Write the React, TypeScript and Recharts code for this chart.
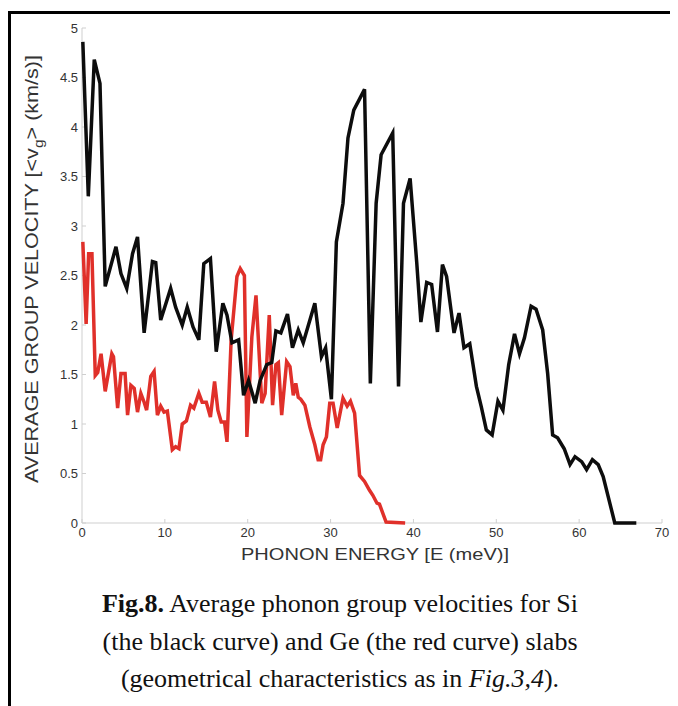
import { Line, LineChart, XAxis, YAxis } from "recharts";

// Si slab (black curve): phonon energy [meV] and average group velocity [km/s]
const siEnergy = [
  0.1, 0.76, 1.48, 2.17, 2.8, 4.1, 4.7, 5.4, 6.1, 6.7, 7.5, 8.5, 8.9, 9.5, 10.7, 11.3, 12.1,
  12.7, 13.4, 14.1, 14.7, 15.5, 16.2, 17.0, 17.5, 18.1, 18.9, 19.5, 20.1, 20.9, 21.5, 22.3,
  22.9, 23.4, 24.0, 24.8, 25.4, 26.1, 26.7, 28.1, 28.9, 29.4, 30.1, 30.7, 31.5, 32.1, 32.8,
  34.1, 34.8, 35.5, 36.1, 37.5, 38.2, 38.8, 39.6, 40.4, 40.9, 41.6, 42.2, 42.9, 43.5, 44.0,
  44.9, 45.5, 46.1, 46.8, 47.6, 48.2, 48.8, 49.5, 50.2, 50.8, 51.5, 52.2, 52.8, 53.4, 54.2,
  54.8, 55.6, 56.2, 56.8, 57.4, 58.2, 58.9, 59.5, 60.3, 60.9, 61.6, 62.3, 62.9, 64.3, 66.9,
];
const siVelocity = [
  4.86, 3.3, 4.68, 4.44, 2.39, 2.79, 2.52, 2.37, 2.72, 2.89, 1.92, 2.64, 2.63, 2.05, 2.37, 2.18,
  2.0, 2.18, 1.98, 1.85, 2.62, 2.67, 1.73, 2.22, 2.1, 1.82, 1.85, 1.29, 1.44, 1.21, 1.44, 1.6,
  1.62, 1.94, 1.92, 2.11, 1.77, 1.95, 1.82, 2.22, 1.68, 1.77, 1.25, 2.84, 3.23, 3.89, 4.17,
  4.38, 1.41, 3.23, 3.72, 3.94, 1.38, 3.23, 3.48, 2.63, 2.03, 2.43, 2.41, 1.93, 2.61, 2.49,
  1.92, 2.12, 1.77, 1.81, 1.38, 1.17, 0.94, 0.89, 1.23, 1.14, 1.6, 1.91, 1.71, 1.87, 2.19,
  2.16, 1.95, 1.51, 0.89, 0.86, 0.75, 0.59, 0.67, 0.62, 0.54, 0.64, 0.59, 0.47, 0, 0,
];

// Ge slab (red curve)
const geEnergy = [
  0.1, 0.5, 0.8, 1.2, 1.6, 1.9, 2.3, 2.8, 3.6, 3.8, 4.3, 4.7, 5.2, 5.5, 5.9, 6.3, 6.7, 7.1,
  7.5, 7.8, 8.3, 8.7, 9.1, 9.5, 9.9, 10.3, 10.9, 11.3, 11.7, 12.1, 12.6, 13.1, 13.5, 14.1,
  14.5, 15.0, 15.5, 16.0, 16.4, 16.8, 17.2, 17.5, 18.0, 18.7, 19.1, 19.6, 19.9, 20.5, 21.0,
  21.7, 22.1, 22.6, 23.0, 23.4, 23.7, 24.1, 24.7, 25.1, 25.5, 25.8, 26.1, 26.4, 26.9, 27.5,
  28.1, 28.5, 28.8, 29.1, 29.5, 29.9, 30.3, 30.8, 31.5, 32.0, 32.4, 32.9, 33.5, 34.1, 34.7,
  35.1, 35.6, 35.9, 36.7, 39.0,
];
const geVelocity = [
  2.84, 2.01, 2.72, 2.72, 1.49, 1.52, 1.71, 1.33, 1.71, 1.68, 1.16, 1.51, 1.51, 1.09, 1.39,
  1.36, 1.12, 1.31, 1.22, 1.14, 1.48, 1.53, 1.09, 1.18, 1.12, 1.13, 0.74, 0.77, 0.75, 1.0,
  1.03, 1.19, 1.16, 1.31, 1.22, 1.22, 1.07, 1.43, 1.14, 1.02, 1.02, 0.82, 1.85, 2.49, 2.57,
  2.5, 0.87, 1.88, 2.3, 1.21, 1.31, 2.1, 1.19, 1.6, 1.62, 1.09, 1.63, 1.58, 1.29, 1.41, 1.27,
  1.25, 1.19, 0.97, 0.79, 0.64, 0.64, 0.79, 0.87, 1.21, 1.21, 0.96, 1.26, 1.18, 1.23, 1.11,
  0.48, 0.42, 0.33, 0.28, 0.2, 0.19, 0.01, 0,
];

const xTicks = [0, 10, 20, 30, 40, 50, 60, 70];
const yTicks = [0, 0.5, 1, 1.5, 2, 2.5, 3, 3.5, 4, 4.5, 5];

const siData = siEnergy.map((e, i) => ({ e, v: siVelocity[i] }));
const geData = geEnergy.map((e, i) => ({ e, v: geVelocity[i] }));

const sans = "Liberation Sans, Arial, sans-serif";
const tickStyle = { fontSize: 13, fill: "#333", fontFamily: sans };
const axisGray = "#cfcfcf";

// rotated y label with a "g" subscript under the v
function YLabel() {
  const cx = 24;
  const cy = 261;
  return (
    <text
      x={cx}
      y={cy}
      transform={`rotate(-90, ${cx}, ${cy})`}
      textAnchor="middle"
      dominantBaseline="central"
      fontSize={18}
      fill="#333"
      fontFamily={sans}
      textLength={428}
      lengthAdjust="spacingAndGlyphs"
    >
      AVERAGE GROUP VELOCITY [&lt;v
      <tspan dy={6} fontSize={13}>g</tspan>
      <tspan dy={-6}>&gt; (km/s)]</tspan>
    </text>
  );
}

function XLabel() {
  return (
    <text
      x={367}
      y={546}
      textAnchor="middle"
      dominantBaseline="central"
      fontSize={17}
      fill="#333"
      fontFamily={sans}
      textLength={268}
      lengthAdjust="spacingAndGlyphs"
    >
      PHONON ENERGY [E (meV)]
    </text>
  );
}

export default function App() {
  return (
    <div style={{ position: "relative", width: 670, height: 698, background: "#fff" }}>
      <div
        style={{
          position: "absolute",
          left: 0,
          top: 3,
          width: 670,
          height: 695,
          borderTop: "3px solid #000",
          borderLeft: "3px solid #000",
          boxSizing: "border-box",
        }}
      />
      <LineChart width={670} height={560} margin={{ top: 20, right: 16, bottom: 0, left: 44 }}>
        <XAxis
          type="number"
          dataKey="e"
          domain={[0, 70]}
          ticks={xTicks}
          height={45}
          stroke={axisGray}
          tick={tickStyle}
          tickSize={-4}
          tickMargin={9}
          label={<XLabel />}
        />
        <YAxis
          type="number"
          dataKey="v"
          domain={[0, 5]}
          ticks={yTicks}
          width={30}
          stroke={axisGray}
          tick={tickStyle}
          tickSize={-4}
          tickMargin={8}
          label={<YLabel />}
        />
        <Line
          data={geData}
          dataKey="v"
          stroke="#e0302a"
          strokeWidth={3.5}
          dot={false}
          isAnimationActive={false}
          zIndex={600}
        />
        <Line
          data={siData}
          dataKey="v"
          stroke="#0d0d0d"
          strokeWidth={3.5}
          dot={false}
          isAnimationActive={false}
          zIndex={601}
        />
      </LineChart>
      <div
        style={{
          position: "absolute",
          left: 0,
          top: 577,
          width: 664,
          textAlign: "center",
          fontFamily: "Liberation Serif, Times New Roman, serif",
          fontSize: 26,
          lineHeight: "37.5px",
          color: "#111",
        }}
      >
        <div>
          <b>Fig.8.</b> Average phonon group velocities for Si
        </div>
        <div>(the black curve) and Ge (the red curve) slabs</div>
        <div>
          (geometrical characteristics as in <i>Fig.3,4</i>).
        </div>
      </div>
    </div>
  );
}
